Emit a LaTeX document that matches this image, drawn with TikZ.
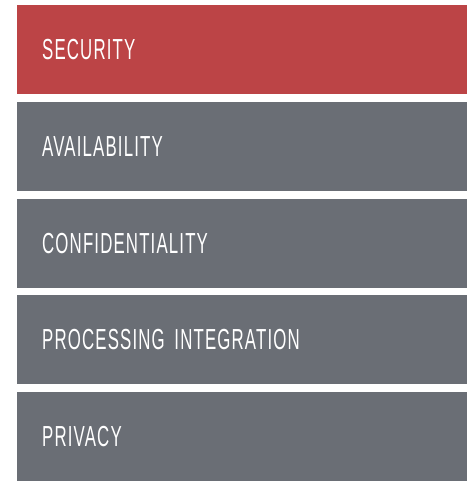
\documentclass[tikz,border=0pt]{standalone}
\usepackage{fontspec}
\setmainfont[FakeStretch=0.58,LetterSpace=4,WordSpace=0.5]{Liberation Sans}
\definecolor{barred}{RGB}{188,68,70}
\definecolor{bargray}{RGB}{106,110,117}
\tikzset{
  bar/.style={fill=bargray, text=white, anchor=north west,
    minimum width=450pt, minimum height=89pt, inner xsep=25pt,
    text width=400pt, align=left, font=\fontsize{29}{31}\selectfont},
}
\begin{document}
\begin{tikzpicture}[x=1pt,y=-1pt]
  \useasboundingbox (0,0) rectangle (467,483);
  \node[bar, fill=barred] (security) at (17,5) {SECURITY};
  \foreach \name/\label [count=\i] in {
      availability/AVAILABILITY,
      confidentiality/CONFIDENTIALITY,
      processing/PROCESSING INTEGRATION,
      privacy/PRIVACY}
    \node[bar] (\name) at (17,5+96.75*\i) {\label};
\end{tikzpicture}
\end{document}
